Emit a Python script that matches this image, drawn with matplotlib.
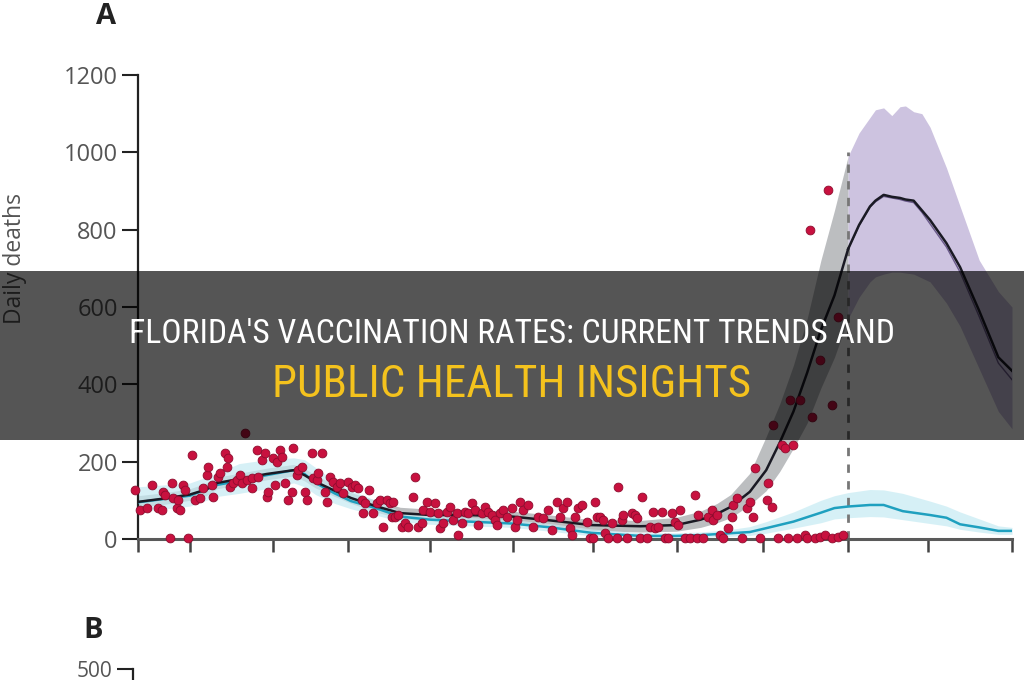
import matplotlib
matplotlib.use("Agg")
import matplotlib.pyplot as plt
from matplotlib.patches import Rectangle
from matplotlib import font_manager
import numpy as np

# ---------------- data ----------------
# model fit (black) and its uncertainty band (days since start)
model_days = [0, 10, 19, 25, 29, 37, 47, 57, 61, 65, 72, 78, 87, 96, 107, 121, 137, 151, 166, 184,
              197, 206, 212, 217, 224, 230, 235, 240, 245, 250, 255, 260]
model_fit = [96, 105, 115, 128, 145, 155, 168, 178, 165, 148, 125, 106, 85, 67, 62, 62, 58, 48, 36, 33,
             36, 50, 65, 83, 122, 178, 250, 330, 430, 540, 630, 750]
model_upper = [112, 120, 130, 145, 160, 170, 183, 193, 182, 165, 140, 120, 100, 82, 77, 76, 72, 62, 50, 48,
               56, 72, 92, 115, 170, 265, 350, 450, 570, 720, 850, 990]
model_lower = [82, 90, 100, 112, 130, 140, 153, 163, 150, 132, 110, 92, 70, 53, 47, 48, 44, 34, 22, 18,
               20, 30, 42, 55, 88, 125, 175, 235, 300, 390, 470, 570]

# projection after the dashed line
proj_days = [260, 264, 268, 270, 273, 276, 279, 281, 284, 287, 290, 296, 301, 308, 315, 320]
proj_fit = [750, 812, 860, 875, 890, 885, 882, 878, 875, 850, 825, 765, 703, 590, 470, 435]
proj_alt = [750, 810, 858, 872, 886, 882, 878, 874, 870, 845, 815, 755, 690, 575, 455, 412]
proj_upper = [990, 1050, 1090, 1110, 1115, 1095, 1118, 1120, 1105, 1100, 1065, 960, 860, 721, 640, 600]
proj_lower = [570, 625, 665, 678, 685, 690, 690, 688, 685, 675, 665, 610, 550, 440, 330, 285]

# second scenario (cyan)
cyan_days = [0, 19, 29, 37, 47, 57, 61, 65, 72, 78, 87, 96, 107, 121, 137, 151, 166, 184, 197, 206,
             217, 224, 230, 240, 250, 255, 260, 268, 273, 280, 290, 296, 301, 308, 315, 320]
cyan_fit = [95, 112, 140, 150, 165, 178, 168, 145, 118, 98, 80, 58, 50, 45, 40, 30, 16, 8, 8, 10,
            15, 18, 28, 45, 68, 80, 84, 88, 88, 72, 62, 55, 38, 30, 21, 21]
cyan_upper = [135, 145, 170, 195, 205, 210, 205, 185, 150, 125, 100, 72, 62, 56, 50, 40, 26, 16, 16, 18,
              25, 32, 45, 70, 100, 112, 120, 128, 127, 118, 98, 85, 70, 52, 34, 30]
cyan_lower = [70, 85, 110, 118, 130, 145, 135, 115, 92, 78, 62, 45, 38, 34, 30, 20, 8, 2, 2, 4,
              7, 9, 15, 28, 42, 52, 55, 58, 57, 50, 40, 34, 25, 18, 12, 12]

# observed daily deaths
obs_days = [-1.1, 0.7, 3.2, 5.0, 7.3, 8.7, 9.2, 9.9, 11.7, 12.3, 12.8, 14.2, 15.4, 14.6, 16.5, 17.2, 18.3,
            19.7, 20.9, 22.7, 23.8, 25.2, 25.6, 27.5, 27.0, 29.3, 30.0, 31.9, 32.9, 32.5, 33.7, 34.8, 36.1,
            37.3, 38.0, 39.8, 39.2, 41.6, 41.9, 43.5, 43.9, 45.3, 46.5, 47.1, 47.6, 49.4, 50.2, 50.8, 52.0,
            52.6, 53.8, 54.9, 56.3, 56.7, 58.1, 58.6, 59.9, 61.1, 61.8, 63.6, 64.1, 65.4, 65.9, 67.3, 68.5,
            69.1, 70.3, 71.4, 72.7, 74.0, 75.0, 76.9, 78.2, 79.4, 80.5, 81.9, 82.4, 83.1, 84.4,
            86.0, 87.4, 88.6, 89.7, 91.0, 92.3, 93.4, 92.9, 94.1, 95.2, 96.5, 97.7, 98.8, 100.7, 101.4,
            102.5, 103.9, 104.3, 105.7, 106.9, 108.7, 109.8, 110.6, 111.7, 113.0, 114.2, 115.3, 116.7,
            117.2, 118.5, 119.7, 120.8, 122.2, 123.4, 124.5, 125.8, 127.0, 128.1, 129.5, 130.7, 131.3,
            132.5, 133.6, 135.0, 136.8, 138.0, 138.6, 139.9, 141.0, 142.8, 144.6, 146.4, 148.3, 150.1,
            151.5, 153.3, 154.5, 155.6, 156.9, 158.2, 158.8, 160.0, 161.1, 162.4, 164.3, 165.5, 167.3,
            167.9, 166.6, 169.1, 170.2, 171.0, 172.1, 173.4, 175.3, 175.7, 177.1, 177.6, 178.9, 180.7,
            182.0, 182.6, 183.8, 184.4, 186.2, 187.4, 188.5, 189.3, 190.4, 191.7, 192.9, 194.0, 195.4,
            196.6, 197.7, 198.4, 200.3, 202.1, 203.9, 204.5, 205.0, 206.8, 208.7, 210.0, 210.5, 211.9,
            213.1, 214.2, 216.0, 217.4, 217.8, 219.2, 221.0, 222.8, 224.1, 225.2, 225.9, 227.7, 230.2,
            230.6, 232.0, 234.3, 235.7, 236.9, 238.0, 239.8, 232.5, 241.1, 244.1, 244.8, 247.9, 249.7,
            251.6, 254.0, 256.3, 258.1, 252.7, 246.0, 256.4, 249.7, 238.7, 242.4, 254.0, 246.6]
obs_deaths = [127, 75, 80, 140, 80, 75, 122, 114, 3, 145, 106, 80, 75, 101, 140, 127, 3,
              217, 101, 106, 132, 166, 186, 109, 140, 160, 171, 222, 209, 186, 134, 145, 153,
              166, 145, 153, 274, 132, 158, 230, 160, 204, 222, 109, 122, 209, 140, 199, 230,
              212, 145, 101, 122, 235, 166, 178, 186, 122, 101, 222, 158, 153, 171, 222, 122,
              96, 160, 147, 134, 145, 119, 147, 134, 140, 132, 101, 67, 93, 127,
              67, 93, 101, 31, 101, 93, 96, 57, 57, 62, 31, 41, 31, 109, 160,
              31, 41, 75, 96, 70, 93, 67, 28, 41, 70, 83, 49, 67,
              10, 41, 70, 67, 93, 75, 36, 67, 83, 70, 62, 49, 36,
              67, 75, 57, 80, 31, 49, 96, 75, 88, 31, 57, 54, 75,
              23, 96, 57, 80, 96, 28, 10, 57, 80, 88, 44, 3, 96,
              57, 3, 57, 49, 16, 3, 41, 3, 134, 49, 62, 3, 67,
              62, 54, 3, 109, 3, 31, 70, 28, 31, 70, 3, 3, 67,
              44, 36, 75, 3, 3, 114, 3, 62, 3, 57, 75, 49, 62,
              10, 3, 28, 57, 88, 106, 3, 80, 96, 57, 184, 3, 101,
              145, 83, 3, 243, 235, 3, 243, 295, 3, 10, 3, 3, 5,
              10, 3, 5, 10, 902, 799, 575, 463, 359, 359, 347, 316]

x_ticks = [0, 19, 49.4, 76.9, 106.9, 137.3, 166.6, 197.3, 228.8, 260, 289.2, 320]
y_ticks = [0, 200, 400, 600, 800, 1000, 1200]
forecast_start = 260

title_line1 = "FLORIDA'S VACCINATION RATES: CURRENT TRENDS AND"
title_line2 = "PUBLIC HEALTH INSIGHTS"

# ---------------- figure ----------------
W, H = 1024, 680
fig = plt.figure(figsize=(W / 100, H / 100), dpi=100)
fig.patch.set_facecolor("white")

ax = fig.add_axes([138 / W, (H - 539) / H, 874 / W, 464 / H])
ax.set_xlim(0, 320)
ax.set_ylim(0, 1200)

# bands
ax.fill_between(model_days, model_lower, model_upper, color="#b5b7ba", alpha=0.9, lw=0, zorder=1)
ax.fill_between(proj_days, proj_lower, proj_upper, color="#cdc3e0", alpha=1.0, lw=0, zorder=1)
ax.fill_between(cyan_days, cyan_lower, cyan_upper, color="#c5ebf3", alpha=0.7, lw=0, zorder=1.5)

# dashed forecast start
ax.plot([forecast_start, forecast_start], [0, 1000], color="#777777", lw=2,
        dashes=(3, 3), zorder=2)

# lines
ax.plot(cyan_days, cyan_fit, color="#1fa0bf", lw=1.8, zorder=3)
ax.plot(model_days, model_fit, color="#1a1a24", lw=1.8, zorder=3)
ax.plot(proj_days, proj_alt, color="#6a5a8a", lw=1.0, zorder=3)
ax.plot(proj_days, proj_fit, color="#1a1a24", lw=1.8, zorder=3.1)

# observed points
ax.scatter(obs_days, obs_deaths, s=40, color="#c8113f", edgecolors="#8e0c2e",
           linewidths=0.6, zorder=4, clip_on=False)

# axes styling
for s in ["top", "right"]:
    ax.spines[s].set_visible(False)
ax.spines["left"].set_color("#222222")
ax.spines["left"].set_linewidth(1.6)
ax.spines["bottom"].set_color("#5a5a5a")
ax.spines["bottom"].set_linewidth(2.2)
ax.set_xticks(x_ticks)
ax.set_xticklabels([])
ax.set_yticks(y_ticks)
ax.set_yticklabels([str(v) for v in y_ticks], fontsize=17, color="#555555", family="Open Sans")
ax.tick_params(axis="y", length=11.5, width=1.5, color="#222222", pad=3)
ax.tick_params(axis="x", length=9.5, width=1.8, color="#444444")

fig.text(15 / W, 1 - 258 / H, "Daily deaths", rotation=90, ha="center", va="center",
         fontsize=16.5, color="#555555", family="Open Sans")
fig.text(106 / W, 1 - 16 / H, "A", ha="center", va="center", fontsize=21,
         fontweight="bold", color="#222222", family="Open Sans")
fig.text(93 / W, 1 - 631 / H, "B", ha="center", va="center", fontsize=21,
         fontweight="bold", color="#222222", family="Open Sans")

# panel B (only top visible)
axb = fig.add_axes([133 / W, -0.5, 874 / W, 0.5 + (H - 669) / H])
axb.set_ylim(0, 500)
axb.set_xlim(0, 320)
for s in ["top", "right", "bottom"]:
    axb.spines[s].set_visible(False)
axb.spines["left"].set_color("#222222")
axb.spines["left"].set_linewidth(1.6)
axb.set_xticks([])
axb.set_yticks([500])
axb.set_yticklabels(["500"], fontsize=15, color="#555555", family="Open Sans")
axb.tick_params(axis="y", length=11.5, width=1.5, color="#222222", pad=3)
axb.patch.set_alpha(0)

# overlay banner
fig.patches.append(Rectangle((0, (H - 440) / H), 1, 169 / H, transform=fig.transFigure,
                             facecolor="black", alpha=0.667, lw=0, zorder=10))
available = {f.name for f in font_manager.fontManager.ttflist}
cond = [f for f in ["Roboto Condensed", "Liberation Sans Narrow", "Roboto", "DejaVu Sans"]
        if f in available]
fig.text(0.5, 1 - 334 / H, title_line1, ha="center", va="center", fontsize=24.2,
         color="white", family=cond, fontstretch="condensed", zorder=11)
fig.text(0.5, 1 - 385 / H, title_line2, ha="center", va="center", fontsize=32.5,
         color="#f4c21d", family=cond, fontstretch="condensed", zorder=11)

fig.savefig("out.png", dpi=100)
